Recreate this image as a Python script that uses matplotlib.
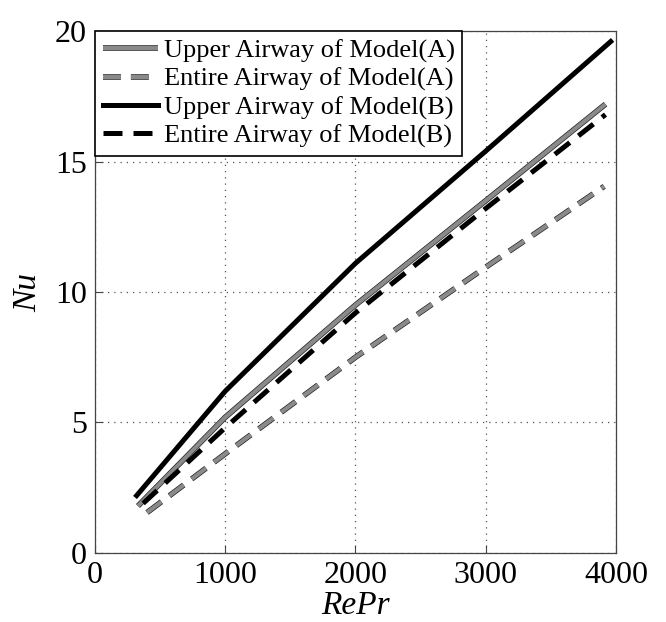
import matplotlib
matplotlib.use("Agg")
import matplotlib.pyplot as plt
import matplotlib.patheffects as pe

# Nusselt number vs. RePr for the two airway models
repr_upper_a = [330, 1000, 2000, 3000, 3920]
nu_upper_a = [1.8, 5.2, 9.5, 13.5, 17.2]

repr_entire_a = [400, 1000, 2000, 3000, 3910]
nu_entire_a = [1.55, 3.8, 7.5, 10.95, 14.05]

repr_upper_b = [320, 1000, 2000, 3000, 3960]
nu_upper_b = [2.2, 6.2, 11.1, 15.4, 19.6]

repr_entire_b = [370, 1000, 2000, 3000, 3920]
nu_entire_b = [1.9, 4.8, 9.2, 13.2, 16.8]

labels = ["Upper Airway of Model(A)", "Entire Airway of Model(A)",
          "Upper Airway of Model(B)", "Entire Airway of Model(B)"]

plt.rcParams['font.family'] = ['Liberation Serif', 'DejaVu Serif']

fig = plt.figure(figsize=(6.66, 6.22), dpi=100)
ax = fig.add_axes([0.1426, 0.111, 0.7822, 0.839])

lw = 3.0
gray = '#8a8a8a'
outline = [pe.Stroke(linewidth=lw + 1.0, foreground='#222222'), pe.Normal()]

ax.plot(repr_upper_a, nu_upper_a, color=gray, lw=lw, label=labels[0],
        path_effects=outline, solid_capstyle='butt')
ax.plot(repr_entire_a, nu_entire_a, color=gray, lw=lw, label=labels[1],
        dashes=(4.3, 2.4), path_effects=outline)
ax.plot(repr_upper_b, nu_upper_b, color='black', lw=lw + 0.6, label=labels[2])
ax.plot(repr_entire_b, nu_entire_b, color='black', lw=lw + 0.6, label=labels[3],
        dashes=(3.8, 2.2))

ax.set_xlim(0, 4000)
ax.set_ylim(0, 20)
ax.set_xticks([0, 1000, 2000, 3000, 4000])
ax.set_yticks([0, 5, 10, 15, 20])
ax.tick_params(direction='in', labelsize=23, length=6, width=0.8,
               color='#444444', pad=6)
ax.grid(True, linestyle=(0, (1, 4)), color='#555555', linewidth=0.9)

for s in ax.spines.values():
    s.set_color('#444444')
    s.set_linewidth(0.9)

ax.set_xlabel('RePr', fontsize=24, style='italic', labelpad=0)
ax.set_ylabel('Nu', fontsize=24, style='italic', labelpad=8)

leg = ax.legend(loc='upper left', fontsize=19, frameon=True, fancybox=False,
                handlelength=2.1, handletextpad=0.2, borderaxespad=0,
                borderpad=0.3, labelspacing=0.17, framealpha=1)
leg.get_frame().set_edgecolor('black')
leg.get_frame().set_linewidth(1.2)

fig.savefig('out.png', dpi=100)
